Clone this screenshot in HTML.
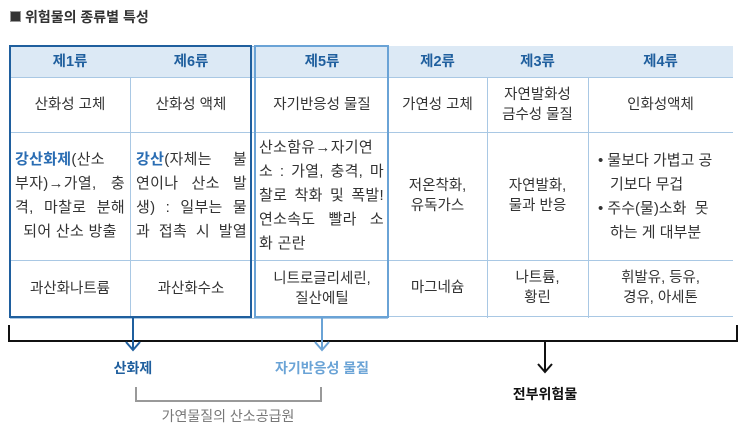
<!DOCTYPE html>
<html><head><meta charset="utf-8"><style>
body{margin:0;width:743px;height:435px;background:#fff;position:relative;overflow:hidden;font-family:"Liberation Sans","Noto Sans CJK KR",sans-serif;color:#333}
.a{position:absolute}
.c{position:absolute;display:flex;align-items:center;justify-content:center;text-align:center;font-size:14.5px;line-height:20px;box-sizing:border-box}
.h{color:#1f5f9e;font-weight:bold;background:#dce9f5;font-size:14.5px}
.jb{position:absolute;font-size:15px;line-height:24px;letter-spacing:0.3px}
.jb div{text-align:justify;text-align-last:justify;white-space:nowrap}
.jb div.l{text-align-last:left}
.hl{position:absolute;height:1px;background:#a9c8e4}
.vl{position:absolute;width:1px;background:#a9c8e4}
.b{color:#2a6db3;font-weight:bold}
</style></head><body>
<div class="a" style="left:10px;top:7px;font-size:14px;font-weight:bold;color:#333"><span style="display:inline-block;width:9px;height:9px;background:#333;border:1px solid #999;margin-right:4px;vertical-align:0"></span>위험물의 종류별 특성</div>

<div class="a" style="left:10px;top:46px;width:723px;height:31px;background:#dce9f5"></div>
<div class="hl" style="left:10px;top:46px;width:723px;background:#8fb6dc"></div>
<div class="hl" style="left:10px;top:77px;width:723px"></div>
<div class="hl" style="left:10px;top:132px;width:723px"></div>
<div class="hl" style="left:10px;top:260px;width:723px"></div>
<div class="hl" style="left:10px;top:318px;width:378px"></div>
<div class="hl" style="left:388px;top:316px;width:345px"></div>
<div class="vl" style="left:130px;top:46px;height:272px"></div>
<div class="vl" style="left:487px;top:46px;height:272px"></div>
<div class="vl" style="left:588px;top:46px;height:272px"></div>

<div class="c h" style="left:10px;top:46px;width:120px;height:31px">제1류</div>
<div class="c h" style="left:130px;top:46px;width:122px;height:31px">제6류</div>
<div class="c h" style="left:256px;top:46px;width:132px;height:31px">제5류</div>
<div class="c h" style="left:388px;top:46px;width:99px;height:31px">제2류</div>
<div class="c h" style="left:487px;top:46px;width:101px;height:31px">제3류</div>
<div class="c h" style="left:588px;top:46px;width:145px;height:31px">제4류</div>

<div class="c" style="left:10px;top:77px;width:120px;height:55px">산화성 고체</div>
<div class="c" style="left:130px;top:77px;width:122px;height:55px">산화성 액체</div>
<div class="c" style="left:256px;top:77px;width:132px;height:55px">자기반응성 물질</div>
<div class="c" style="left:388px;top:77px;width:99px;height:55px">가연성 고체</div>
<div class="c" style="left:487px;top:77px;width:101px;height:55px">자연발화성<br>금수성 물질</div>
<div class="c" style="left:588px;top:77px;width:145px;height:55px">인화성액체</div>

<div class="jb" style="left:15px;top:148px;width:110px">
<div><span class="b">강산화제</span>(산소</div><div>부자)→가열, 충</div><div>격, 마찰로 분해</div><div style="text-align-last:center">되어 산소 방출</div></div>
<div class="jb" style="left:136px;top:148px;width:111px">
<div><span class="b">강산</span>(자체는 불</div><div>연이나 산소 발</div><div>생) : 일부는 물</div><div>과 접촉 시 발열</div></div>
<div class="jb" style="left:259px;top:136px;width:125px">
<div>산소함유→자기연</div><div>소 : 가열, 충격, 마</div><div>찰로 착화 및 폭발!</div><div>연소속도 빨라 소</div><div class="l">화 곤란</div></div>
<div class="c" style="left:388px;top:132px;width:99px;height:128px">저온착화,<br>유독가스</div>
<div class="c" style="left:487px;top:132px;width:101px;height:128px">자연발화,<br>물과 반응</div>
<div class="a" style="left:598px;top:149px;width:130px;font-size:15px;line-height:24px">
<div>• 물보다 가볍고 공</div><div style="padding-left:12px">기보다 무겁</div><div>• 주수(물)소화&nbsp; 못</div><div style="padding-left:12px">하는 게 대부분</div></div>

<div class="c" style="left:10px;top:260px;width:120px;height:58px">과산화나트륨</div>
<div class="c" style="left:130px;top:260px;width:122px;height:58px">과산화수소</div>
<div class="c" style="left:256px;top:260px;width:132px;height:58px">니트로글리세린,<br>질산에틸</div>
<div class="c" style="left:388px;top:260px;width:99px;height:56px">마그네슘</div>
<div class="c" style="left:487px;top:260px;width:101px;height:56px">나트륨,<br>황린</div>
<div class="c" style="left:588px;top:260px;width:145px;height:56px">휘발유, 등유,<br>경유, 아세톤</div>

<div class="a" style="left:9px;top:45px;width:243px;height:273px;border:2px solid #1f5f9e;box-sizing:border-box"></div>
<div class="a" style="left:254px;top:45px;width:135px;height:273px;border:2px solid #6aa3d6;box-sizing:border-box"></div>

<svg class="a" style="left:0;top:0" width="743" height="435">
<path d="M9 325 V341 H737 V325" fill="none" stroke="#111" stroke-width="2"/>
<line x1="133" y1="318" x2="133" y2="350" stroke="#1f5f9e" stroke-width="2"/>
<path d="M126 342 L133 350 L140 342" fill="none" stroke="#1f5f9e" stroke-width="2"/>
<line x1="322" y1="318" x2="322" y2="350" stroke="#6aa3d6" stroke-width="2"/>
<path d="M315 342 L322 350 L329 342" fill="none" stroke="#6aa3d6" stroke-width="2"/>
<line x1="545" y1="341" x2="545" y2="372" stroke="#111" stroke-width="2"/>
<path d="M538 364 L545 372 L552 364" fill="none" stroke="#111" stroke-width="2"/>
<path d="M136 387 V401 H321 V387" fill="none" stroke="#999" stroke-width="2"/>
</svg>
<div class="a" style="left:93px;top:358px;width:80px;text-align:center;font-size:14px;font-weight:bold;color:#1f5f9e">산화제</div>
<div class="a" style="left:262px;top:358px;width:120px;text-align:center;font-size:14px;font-weight:bold;color:#6aa3d6">자기반응성 물질</div>
<div class="a" style="left:500px;top:384px;width:90px;text-align:center;font-size:14px;font-weight:bold;color:#111">전부위험물</div>
<div class="a" style="left:158px;top:406px;width:140px;text-align:center;font-size:14px;color:#777">가연물질의 산소공급원</div>
</body></html>
